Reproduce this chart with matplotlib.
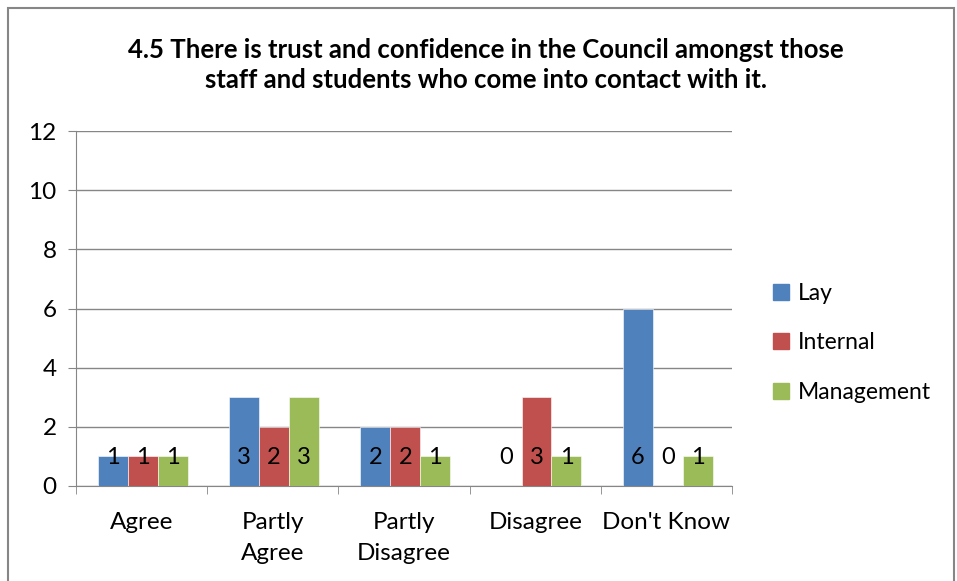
import matplotlib.pyplot as plt
import numpy as np
from matplotlib.patches import Rectangle

categories = ["Agree", "Partly\nAgree", "Partly\nDisagree", "Disagree", "Don't Know"]
series_names = ["Lay", "Internal", "Management"]
lay = [1, 3, 2, 0, 6]
internal = [1, 2, 2, 3, 0]
management = [1, 3, 1, 1, 1]
colors = ["#4F81BD", "#C0504D", "#9BBB59"]

plt.rcParams["font.family"] = ["Lato", "DejaVu Sans"]

fig = plt.figure(figsize=(9.57, 5.81), dpi=100)
ax = fig.add_axes([76 / 957, 1 - 486 / 581, 656 / 957, 355 / 581])

x = np.arange(len(categories))
w = 0.228
for i, (vals, c, name) in enumerate(zip([lay, internal, management], colors, series_names)):
    pos = x + (i - 1) * w + 0.01
    ax.bar(pos, vals, width=w, color=c, edgecolor="white", linewidth=0.4, label=name, zorder=3)
    for p, v in zip(pos, vals):
        ax.text(p, 0.97, str(v), ha="center", va="center", fontsize=17, zorder=4)

ax.set_xlim(-0.5, len(categories) - 0.5)
ax.set_ylim(0, 12)
ax.set_yticks(range(0, 13, 2))
ax.yaxis.grid(True, color="#868686", linewidth=1, zorder=0)
ax.set_axisbelow(True)
for s in ["top", "right"]:
    ax.spines[s].set_visible(False)
for s in ["left", "bottom"]:
    ax.spines[s].set_color("#868686")
ax.tick_params(axis="y", length=6, color="#868686", labelsize=17.5, pad=8)
ax.set_xticks(x)
ax.set_xticklabels(categories, fontsize=17.5, va="top", linespacing=1.55)
ax.tick_params(axis="x", length=0, pad=19)
ax.set_xticks(np.arange(-0.5, len(categories), 1), minor=True)
ax.tick_params(axis="x", which="minor", length=6, color="#868686")

fig.text(0.508, 1 - 65 / 581, "4.5 There is trust and confidence in the Council amongst those\nstaff and students who come into contact with it.",
         ha="center", va="center", fontsize=18.5, fontweight="bold", linespacing=1.3)

handles = [Rectangle((0, 0), 1, 1, color=c) for c in colors]
fig.legend(handles, series_names, loc="center left", bbox_to_anchor=(752 / 957, 1 - 343 / 581),
           frameon=False, fontsize=16.5, handlelength=0.7, handleheight=0.7, handletextpad=0.4,
           labelspacing=1.25)

fig.add_artist(Rectangle((8 / 957, -0.1), 946 / 957, 1.1 - 8 / 581, transform=fig.transFigure,
                         fill=False, edgecolor="#868686", linewidth=1.5))

fig.savefig("out.png", dpi=100)
